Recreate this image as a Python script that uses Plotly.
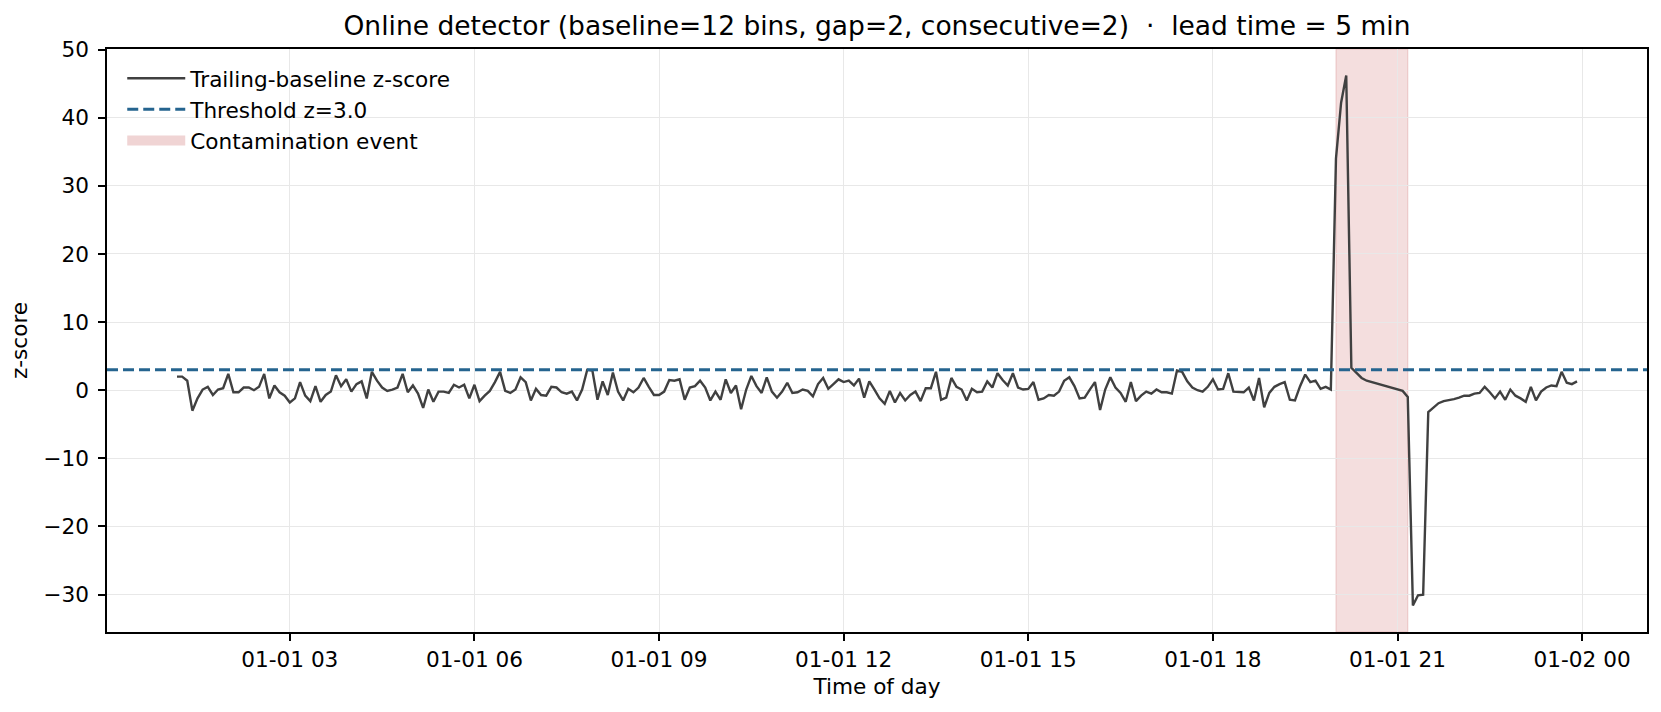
import pandas as pd
import plotly.graph_objects as go

# ---- data -------------------------------------------------------------
START = "2024-01-01 01:10"          # first scored 5-minute bin
BIN_MINUTES = 5
Z_SCORE = [
    2.0, 2.0, 1.4, -3.0, -1.2, 0.1, 0.5, -0.7, 0.1, 0.3,
    2.4, -0.3, -0.3, 0.4, 0.4, 0.0, 0.5, 2.4, -1.2, 0.7,
    -0.3, -0.8, -1.8, -1.2, 1.2, -0.8, -1.6, 0.6, -1.7, -0.7,
    -0.2, 2.2, 0.6, 1.6, -0.2, 0.9, 1.3, -1.2, 2.7, 1.4,
    0.4, -0.1, 0.1, 0.4, 2.4, -0.3, 0.7, -0.5, -2.6, 0.1,
    -1.7, -0.2, -0.2, -0.4, 0.8, 0.4, 0.8, -1.2, 0.8, -1.6,
    -0.8, -0.1, 1.2, 2.7, -0.1, -0.4, 0.1, 1.9,
    1.2, -1.5, 0.2, -0.7, -0.8, 0.5, 0.4, -0.3, -0.5, -0.2,
    -1.5, 0.1, 3.0, 2.9, -1.4, 1.3, -0.7, 2.6, -0.2, -1.5,
    0.2, -0.3, 0.4, 1.8, 0.5, -0.7, -0.7, -0.2, 1.5, 1.4,
    1.6, -1.4, 0.4, 0.6, 1.4, 0.4, -1.5, -0.2, -1.4, 1.6,
    -0.4, 0.7, -2.8, 0.1, 2.1, 0.6, -0.4, 1.9, -0.2, -1.1,
    -0.2, 1.1, -0.4, -0.3, 0.1, -0.1, -0.9, 0.9, 1.8, 0.2,
    0.9, 1.6, 1.2, 1.4, 0.7, 1.7, -1.1,
    1.3, 0.1, -1.2, -2.0, -0.1, -1.8, -0.4, -1.5, -0.7, -0.2,
    -1.6, 0.3, 0.3, 2.7, -1.4, -1.1, 1.8, 0.5, 0.1, -1.5,
    0.2, -0.3, -0.2, 1.3, 0.4, 2.5, 1.5, 0.7, 2.5, 0.4,
    0.1, 0.2, 1.2, -1.4, -1.2, -0.7, -0.8, -0.2, 1.4, 1.9,
    0.6, -1.2, -1.1, 0.1, 1.2, -2.9, 0.1, 1.9, 0.4, -0.4,
    -1.7, 1.2, -1.6, -0.8, -0.2, -0.5, 0.1, -0.3, -0.3, -0.5,
    2.9, 2.7, 1.3, 0.4, 0.0, -0.2, 0.5,
    1.6, 0.1, 0.2, 2.5, -0.2, -0.2, -0.3, 0.4, -1.5, 1.8,
    -2.5, -0.4, 0.5, 0.9, 1.2, -1.4, -1.5, 0.6, 2.3, 1.2,
    1.4, 0.2, 0.5, 0.1, 34.0, 42.2, 46.2, 3.3, 2.5, 1.8,
    1.4, 1.2, 0.9, 0.8, 0.5, 0.4, 0.2, -0.1, -1.0, -31.6,
    -30.1, -30.0, -3.2, -2.5, -1.9, -1.6, -1.5, -1.3, -1.1, -0.8,
    -0.8, -0.5, -0.4, 0.5, -0.3, -1.2, -0.2, -1.4, 0.1, -0.8,
    -1.2, -1.7, 0.5, -1.5, -0.2, 0.4, 0.7, 0.6, 2.7, 1.1,
    0.9, 1.3,
]
THRESHOLD = 3.0
EVENT_START = "2024-01-01 20:00"
EVENT_END = "2024-01-01 21:10"
Y_TICKS = [-30, -20, -10, 0, 10, 20, 30, 40, 50]
Y_TICK_LABELS = ["\u221230", "\u221220", "\u221210", "0", "10", "20", "30", "40", "50"]

NB = "\u00a0"
TITLE = ("Online detector (baseline=12 bins, gap=2, consecutive=2)"
         + NB * 2 + "\u00b7" + NB * 2 + "lead time = 5 min")

# ---- figure -----------------------------------------------------------
times = pd.date_range(START, periods=len(Z_SCORE), freq=f"{BIN_MINUTES}min")
span = times[-1] - times[0]
x_range = [times[0] - 0.05 * span, times[-1] + 0.05 * span]
ymin, ymax = min(Z_SCORE), max(Z_SCORE)
yspan = ymax - ymin
y_range = [ymin - 0.05 * yspan, ymax + 0.05 * yspan]

LINE_COL = "#404040"
THR_COL = "#25648f"
EVT_FILL = "rgba(178,34,34,0.15)"
EVT_EDGE = "rgba(178,34,34,0.16)"
EVT_LEGEND = "rgb(240,212,212)"
FONT = "DejaVu Sans"
FS = 21.6

fig = go.Figure()
fig.add_vrect(x0=EVENT_START, x1=EVENT_END, fillcolor=EVT_FILL,
              line=dict(color=EVT_EDGE, width=1.2), layer="below")

fig.add_trace(go.Scatter(x=times, y=Z_SCORE, mode="lines",
                         line=dict(color=LINE_COL, width=2.4),
                         name="Trailing-baseline z-score"))
fig.add_hline(y=THRESHOLD, line=dict(color=THR_COL, width=3, dash="11px,5px"),
              layer="above")
fig.add_trace(go.Scatter(x=[None], y=[None], mode="lines",
                         line=dict(color=THR_COL, width=3, dash="11px,5px"),
                         name="Threshold z=3.0"))
fig.add_trace(go.Scatter(x=[None], y=[None], mode="lines",
                         line=dict(color=EVT_LEGEND, width=10),
                         name="Contamination event"))

axis_common = dict(showline=True, linecolor="black", linewidth=1.6, mirror=True,
                   ticks="outside", ticklen=7, tickwidth=1.6, tickcolor="black",
                   showgrid=True, gridcolor="#e8e8e8", gridwidth=1.4,
                   zeroline=False, tickfont=dict(family=FONT, size=FS, color="black"))

fig.update_xaxes(range=x_range, tickformat="%m-%d %H", dtick=3 * 3600 * 1000,
                 tick0="2024-01-01 00:00",
                 title=dict(text="Time of day", font=dict(family=FONT, size=FS, color="black"),
                            standoff=8),
                 **axis_common)
fig.update_yaxes(range=y_range, tickvals=Y_TICKS, ticktext=Y_TICK_LABELS,
                 ticklabelstandoff=5,
                 title=dict(text="z-score", font=dict(family=FONT, size=FS, color="black"),
                            standoff=10),
                 **axis_common)

fig.update_layout(
    width=1661, height=712,
    margin=dict(l=107, r=14, t=49, b=80),
    paper_bgcolor="white", plot_bgcolor="white",
    font=dict(family=FONT, size=FS, color="black"),
    title=dict(text=TITLE, x=0.5, xref="paper", xanchor="center",
               y=1 - 26 / 712, yref="container", yanchor="middle",
               font=dict(family=FONT, size=26.5, color="black")),
    legend=dict(x=0.0099, y=0.985, xanchor="left", yanchor="top",
                bgcolor="rgba(0,0,0,0)", borderwidth=0,
                font=dict(family=FONT, size=FS, color="black"),
                tracegroupgap=0, itemwidth=58),
    showlegend=True,
)

fig.write_html("out.html",
               config={"displayModeBar": False},
               post_script="document.body.style.margin='0px';"
                           "document.body.style.overflow='hidden';")
